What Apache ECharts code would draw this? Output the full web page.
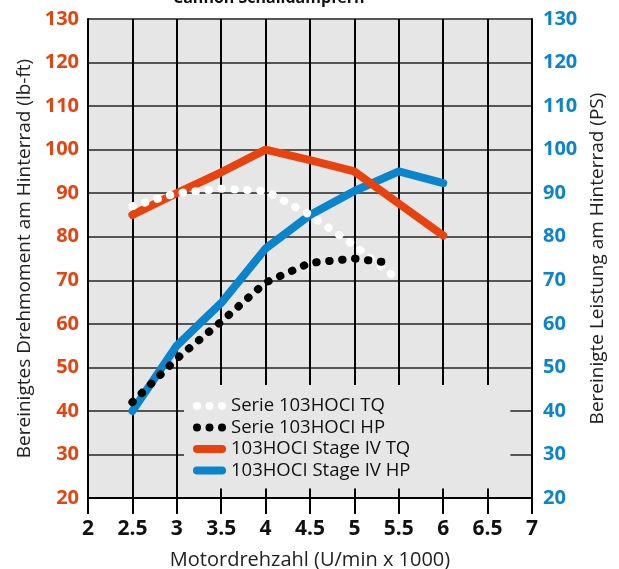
<!DOCTYPE html>
<html>
<head>
<meta charset="utf-8">
<script src="https://cdn.jsdelivr.net/npm/echarts@6/dist/echarts.min.js"></script>
<style>
  html, body { margin: 0; padding: 0; background: #fff; }
  #chart { width: 619px; height: 569px; }
</style>
</head>
<body>
<div id="chart"></div>
<script>
// engine speed (x 1000 rpm)
const rpm = [2.5, 3, 3.5, 4, 4.5, 5, 5.5, 6];
const serieTqRpm = [2.5, 3, 3.5, 4, 4.5, 5, 5.5];
const serieHpRpm = [2.5, 3, 3.5, 4, 4.5, 5, 5.4];

const serieTq = [87, 90, 91, 90.5, 85, 78, 70];
const serieHp = [42, 52, 60.5, 69.5, 74, 75, 74];
const stageTq = [85, 90, 94.8, 100, 97.6, 95, 87.6, 80.3];
const stageHp = [40, 55, 64.8, 77.3, 85, 90.5, 95, 92.3];

const names = [
  "Serie 103HOCI TQ",
  "Serie 103HOCI HP",
  "103HOCI Stage IV TQ",
  "103HOCI Stage IV HP",
];

const ORANGE = "#e8430f";
const BLUE = "#0a84cc";
const font = "Open Sans";

const pairs = (xs, ys) => xs.map((x, i) => [x, ys[i]]);

const dotsIcon =
  "path://M0,4a4,4 0 1,0 8,0a4,4 0 1,0 -8,0M12.5,4a4,4 0 1,0 8,0a4,4 0 1,0 -8,0M25,4a4,4 0 1,0 8,0a4,4 0 1,0 -8,0";
const barIcon = "path://M4,0H29A4,4 0 0 1 29,8H4A4,4 0 0 1 4,0Z";

const chart = echarts.init(document.getElementById("chart"));

const yAxisBase = {
  type: "value",
  min: 20,
  max: 130,
  interval: 10,
  nameLocation: "middle",
  nameRotate: 90,
  nameTextStyle: { fontFamily: font, fontSize: 19, color: "#222" },
  axisLine: { show: true, lineStyle: { color: "#000", width: 2 } },
  axisTick: { show: false },
};

const option = {
  animation: false,
  title: {
    text: "Cannon Schalldämpfern",
    left: 168,
    top: -15,
    textStyle: { fontFamily: font, fontSize: 16, fontWeight: "bold", color: "#111" },
  },
  grid: {
    left: 88,
    right: 87,
    top: 19,
    bottom: 71,
    outerBoundsMode: "none",
    show: true,
    backgroundColor: "#e6e6e6",
    borderWidth: 0,
  },
  legend: {
    orient: "vertical",
    left: 184,
    top: 385,
    padding: [11, 100, 8, 9],
    backgroundColor: "#e6e6e6",
    itemWidth: 33,
    itemHeight: 8,
    itemGap: 1.5,
    textStyle: { fontFamily: font, fontSize: 18.5, color: "#111", lineHeight: 20 },
    data: [
      { name: names[0], icon: dotsIcon, itemStyle: { color: "#fff" } },
      { name: names[1], icon: dotsIcon, itemStyle: { color: "#000" } },
      { name: names[2], icon: barIcon, itemStyle: { color: ORANGE } },
      { name: names[3], icon: barIcon, itemStyle: { color: BLUE } },
    ],
  },
  xAxis: {
    type: "value",
    min: 2,
    max: 7,
    interval: 0.5,
    name: "Motordrehzahl (U/min x 1000)",
    nameLocation: "middle",
    nameGap: 52,
    nameTextStyle: { fontFamily: font, fontSize: 20, color: "#222" },
    axisLine: { show: true, onZero: false, lineStyle: { color: "#000", width: 2 } },
    axisTick: { show: true, length: 16, lineStyle: { color: "#000", width: 2 } },
    axisLabel: { margin: 21, fontFamily: font, fontSize: 21, fontWeight: "bold", color: "#111" },
    splitLine: { show: true, lineStyle: { color: "#000", width: 2 } },
  },
  yAxis: [
    Object.assign({}, yAxisBase, {
      position: "left",
      name: "Bereinigtes Drehmoment am Hinterrad (lb-ft)",
      nameGap: 53,
      axisLabel: { margin: 9, fontFamily: font, fontSize: 20, fontWeight: "bold", color: ORANGE },
      splitLine: { show: true, lineStyle: { color: "#555", width: 2 } },
    }),
    Object.assign({}, yAxisBase, {
      position: "right",
      name: "Bereinigte Leistung am Hinterrad (PS)",
      nameGap: 56,
      axisLabel: { margin: 11, fontFamily: font, fontSize: 20, fontWeight: "bold", color: BLUE },
      splitLine: { show: false },
    }),
  ],
  series: [
    {
      name: names[3],
      type: "line",
      yAxisIndex: 1,
      data: pairs(rpm, stageHp),
      symbol: "none",
      itemStyle: { color: BLUE },
      lineStyle: { color: BLUE, width: 8, cap: "round", join: "round" },
    },
    {
      name: names[2],
      type: "line",
      yAxisIndex: 0,
      data: pairs(rpm, stageTq),
      symbol: "none",
      itemStyle: { color: ORANGE },
      lineStyle: { color: ORANGE, width: 8, cap: "round", join: "round" },
    },
    {
      name: names[0],
      type: "line",
      yAxisIndex: 0,
      data: pairs(serieTqRpm, serieTq),
      symbol: "none",
      itemStyle: { color: "#fff" },
      lineStyle: { color: "#fff", width: 8, type: [0.5, 12.5], cap: "round" },
    },
    {
      name: names[1],
      type: "line",
      yAxisIndex: 1,
      data: pairs(serieHpRpm, serieHp),
      symbol: "none",
      itemStyle: { color: "#000" },
      lineStyle: { color: "#000", width: 8, type: [0.5, 12.5], cap: "round" },
    },
  ],
};

chart.setOption(option);
window.addEventListener("resize", () => chart.resize());
</script>
</body>
</html>
